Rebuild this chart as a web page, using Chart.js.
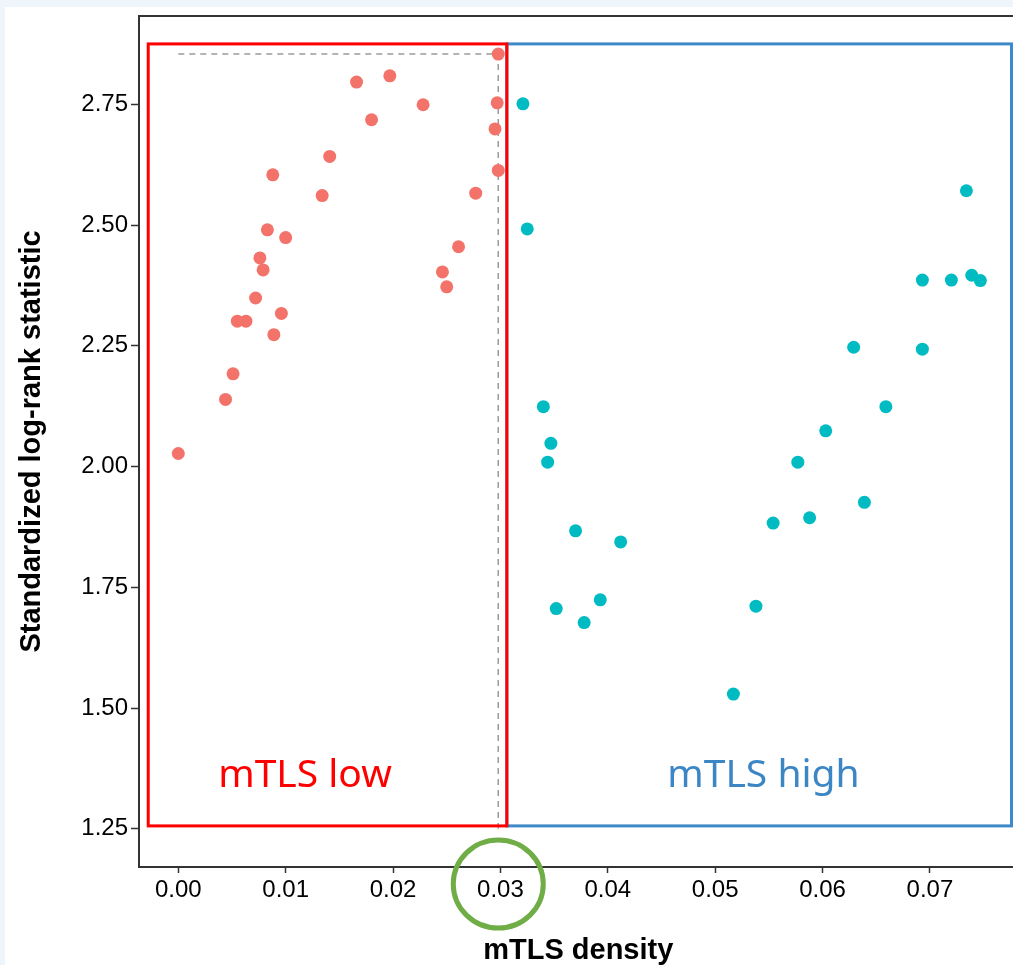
<!DOCTYPE html>
<html>
<head>
<meta charset="utf-8">
<title>mTLS density cutoff</title>
<script src="https://cdn.jsdelivr.net/npm/chart.js@4.4.1/dist/chart.umd.min.js"></script>
<style>
  html, body { margin: 0; padding: 0; overflow: hidden; background: #eef5fb; }
  #wrap { position: absolute; left: 5px; top: 7px; width: 1019px; height: 958px; background: #fff; }
</style>
</head>
<body>
<div id="wrap"><canvas id="chart" width="1019" height="958"></canvas></div>
<script>
// points below the cutoff (mTLS low)
const lowX = [0.0298, 0.0166, 0.0197, 0.0228, 0.0297, 0.0180, 0.0295, 0.0141, 0.0088,
              0.0298, 0.0134, 0.0277, 0.0083, 0.0100, 0.0261, 0.0076, 0.0079, 0.0246,
              0.0250, 0.0072, 0.0096, 0.0055, 0.0063, 0.0089, 0.0051, 0.0044, 0.0000];
const lowY = [2.854, 2.796, 2.809, 2.749, 2.753, 2.718, 2.699, 2.642, 2.604,
              2.613, 2.561, 2.566, 2.490, 2.474, 2.455, 2.432, 2.407, 2.403,
              2.372, 2.349, 2.317, 2.301, 2.301, 2.273, 2.192, 2.139, 2.027];

// points above the cutoff (mTLS high)
const highX = [0.0321, 0.0325, 0.0340, 0.0347, 0.0344, 0.0370, 0.0412, 0.0393, 0.0352,
               0.0378, 0.0538, 0.0517, 0.0734, 0.0693, 0.0720, 0.0739, 0.0747, 0.0629,
               0.0693, 0.0659, 0.0603, 0.0577, 0.0639, 0.0554, 0.0588];
const highY = [2.751, 2.492, 2.124, 2.048, 2.009, 1.867, 1.844, 1.724, 1.706,
               1.677, 1.711, 1.529, 2.571, 2.386, 2.386, 2.396, 2.385, 2.247,
               2.243, 2.124, 2.074, 2.009, 1.926, 1.883, 1.894];

const xTicks = [0.00, 0.01, 0.02, 0.03, 0.04, 0.05, 0.06, 0.07];
const yTicks = [1.25, 1.50, 1.75, 2.00, 2.25, 2.50, 2.75];

// cutoff = x of the best statistic
const best = lowY.indexOf(Math.max(...lowY));
const cutX = lowX[best];
const cutY = lowY[best];

// annotation boxes (data units)
const boxTop = 2.875, boxBottom = 1.256;
const lowBox = [-0.0028, 0.0306];
const highBox = [0.0306, 0.0776];
const labelY = 1.3365;
const lowLabelX = 0.0118, highLabelX = 0.0545;
const circleY = 1.1357;

function toPoints(xs, ys) {
    return xs.map((v, i) => ({ x: v, y: ys[i] }));
}

const overlay = {
    id: 'overlay',
    afterDraw(chart) {
        const ctx = chart.ctx;
        const a = chart.chartArea;
        const x = chart.scales.x, y = chart.scales.y;
        ctx.save();

        // panel border
        ctx.strokeStyle = '#333';
        ctx.lineWidth = 2;
        ctx.strokeRect(a.left, a.top, a.right - a.left, a.bottom - a.top);

        // blue box then red box on top
        ctx.lineWidth = 3;
        ctx.strokeStyle = '#3e89c9';
        ctx.strokeRect(x.getPixelForValue(highBox[0]), y.getPixelForValue(boxTop),
            x.getPixelForValue(highBox[1]) - x.getPixelForValue(highBox[0]),
            y.getPixelForValue(boxBottom) - y.getPixelForValue(boxTop));
        ctx.strokeStyle = '#ff0000';
        ctx.strokeRect(x.getPixelForValue(lowBox[0]), y.getPixelForValue(boxTop),
            x.getPixelForValue(lowBox[1]) - x.getPixelForValue(lowBox[0]),
            y.getPixelForValue(boxBottom) - y.getPixelForValue(boxTop));

        // group labels
        ctx.font = '39px "Noto Sans", sans-serif';
        ctx.textAlign = 'center';
        ctx.textBaseline = 'alphabetic';
        ctx.fillStyle = '#ff0000';
        ctx.fillText('mTLS low', x.getPixelForValue(lowLabelX), y.getPixelForValue(labelY));
        ctx.fillStyle = '#3d86c6';
        ctx.fillText('mTLS high', x.getPixelForValue(highLabelX), y.getPixelForValue(labelY));

        // green ring around the cutoff tick
        ctx.strokeStyle = '#70ad47';
        ctx.lineWidth = 5;
        ctx.beginPath();
        ctx.ellipse(x.getPixelForValue(cutX), y.getPixelForValue(circleY), 45, 44, 0, 0, Math.PI * 2);
        ctx.stroke();

        ctx.restore();
    }
};

const ctx = document.getElementById('chart').getContext('2d');
new Chart(ctx, {
    type: 'scatter',
    data: {
        datasets: [{
            label: 'mTLS low',
            data: toPoints(lowX, lowY),
            backgroundColor: '#f3736b',
            borderWidth: 0,
            pointRadius: 6.5
        }, {
            label: 'mTLS high',
            data: toPoints(highX, highY),
            backgroundColor: '#00bcc2',
            borderWidth: 0,
            pointRadius: 6.5
        }, {
            label: 'cutoff',
            data: [{ x: 0, y: cutY }, { x: cutX, y: cutY }, { x: cutX, y: 1.25 }],
            showLine: true,
            borderColor: '#9a9a9a',
            borderWidth: 1.5,
            borderDash: [6, 5],
            pointRadius: 0,
            fill: false
        }]
    },
    options: {
        responsive: false,
        animation: false,
        layout: { padding: { top: 9, right: 3, left: 0, bottom: 0 } },
        plugins: {
            legend: { display: false },
            tooltip: { enabled: false }
        },
        scales: {
            x: {
                type: 'linear',
                min: -0.00366,
                max: 0.07816,
                afterFit: function(scale) {
                    scale.height = 98;
                    scale.paddingLeft = 0;
                    scale.paddingRight = 0;
                },
                afterBuildTicks: function(scale) { scale.ticks = xTicks.map(v => ({ value: v })); },
                grid: { drawOnChartArea: false, tickLength: 6, color: '#333', tickWidth: 1.5 },
                border: { display: false },
                ticks: {
                    padding: 3,
                    color: '#000',
                    font: { family: 'Liberation Sans', size: 24 },
                    callback: v => v.toFixed(2)
                },
                title: {
                    display: true,
                    text: 'mTLS density',
                    color: '#000',
                    font: { family: 'Liberation Sans', size: 29, weight: 'bold', lineHeight: 1 },
                    padding: { top: 0, bottom: 0 }
                }
            },
            y: {
                type: 'linear',
                min: 1.1709,
                max: 2.9328,
                afterFit: function(scale) {
                    scale.width = 134;
                    scale.paddingTop = 0;
                    scale.paddingBottom = 0;
                },
                afterBuildTicks: function(scale) { scale.ticks = yTicks.map(v => ({ value: v })); },
                grid: { drawOnChartArea: false, tickLength: 8, color: '#333', tickWidth: 1.5 },
                border: { display: false },
                ticks: {
                    padding: 3,
                    color: '#000',
                    font: { family: 'Liberation Sans', size: 24 },
                    callback: v => v.toFixed(2)
                },
                title: {
                    display: true,
                    text: 'Standardized log-rank statistic',
                    color: '#000',
                    font: { family: 'Liberation Sans', size: 29, weight: 'bold', lineHeight: 1 },
                    padding: { top: 12, bottom: 0 }
                }
            }
        }
    },
    plugins: [overlay]
});
</script>
</body>
</html>
